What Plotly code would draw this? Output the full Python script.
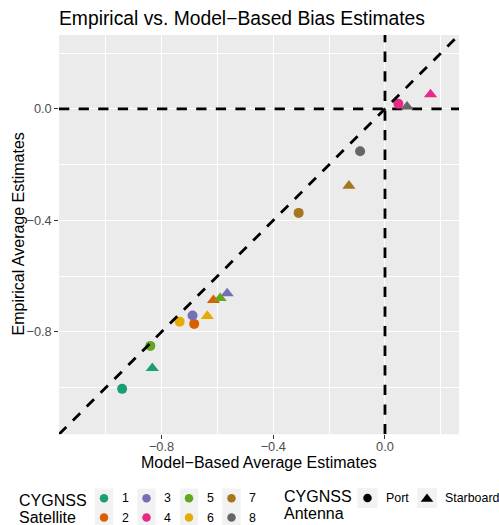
import plotly.graph_objects as go

# ---------------- data ----------------
satellites = ["1", "2", "3", "4", "5", "6", "7", "8"]
sat_colors = ["#1B9E77", "#D95F02", "#7570B3", "#E7298A",
              "#66A61E", "#E6AB02", "#A6761D", "#666666"]
port_model = [-0.941, -0.683, -0.689, 0.048, -0.840, -0.735, -0.309, -0.089]
port_empirical = [-1.004, -0.771, -0.741, 0.018, -0.850, -0.763, -0.373, -0.152]
starboard_model = [-0.833, -0.614, -0.565, 0.163, -0.590, -0.636, -0.129, 0.079]
starboard_empirical = [-0.930, -0.686, -0.662, 0.052, -0.679, -0.743, -0.276, 0.008]
antennas = ["Port", "Starboard"]
major_ticks = [-0.8, -0.4, 0.0]
minor_ticks = [-1.0, -0.6, -0.2, 0.2]
axis_range = [-1.167, 0.265]

# ---------------- styling ----------------
W, H = 499, 525
FONT = "Liberation Sans"
PANEL = dict(l=59, r=459, t=35, b=434.3)
TITLE_SIZE, AXIS_TITLE_SIZE, TICK_SIZE, LEG_LABEL_SIZE = 19.3, 16, 12.8, 12.4

def px(x):
    return x / W

def py(y):
    return 1 - y / H

fig = go.Figure()
dash = dict(color="black", width=2.8, dash="10.3px,9.3px")

# reference lines x = 0 and y = 0 (drawn under points)
fig.add_trace(go.Scatter(x=axis_range, y=[0, 0], mode="lines", line=dash,
                         showlegend=False, hoverinfo="skip", xaxis="x", yaxis="y"))
fig.add_trace(go.Scatter(x=[0, 0], y=axis_range, mode="lines", line=dash,
                         showlegend=False, hoverinfo="skip", xaxis="x", yaxis="y"))

symbols = {"Port": "circle", "Starboard": "triangle-up"}
sizes = {"Port": 10, "Starboard": 11.5}
data = {"Port": (port_model, port_empirical),
        "Starboard": (starboard_model, starboard_empirical)}

for ant in antennas:
    xs, ys = data[ant]
    fig.add_trace(go.Scatter(
        x=xs, y=ys, mode="markers", name=ant, showlegend=False,
        marker=dict(color=sat_colors, symbol=symbols[ant], size=sizes[ant],
                    line=dict(width=0)),
        xaxis="x", yaxis="y"))

# identity line y = x (drawn over points)
fig.add_trace(go.Scatter(x=axis_range, y=axis_range, mode="lines", line=dash,
                         showlegend=False, hoverinfo="skip", xaxis="x", yaxis="y"))

# ---------------- custom legend (pixel coordinate helper axes) ----------------
leg_top = 475
sat_col_x = [104, 146.5, 189, 231.5]
sat_row_y = [498.2, 517.5]
key_w, key_h = 18.3, 19.3
shapes = []
annotations = []
lx, ly, lc = [], [], []
for i, (s, c) in enumerate(zip(satellites, sat_colors)):
    col, row = i // 2, i % 2
    cx, cy = sat_col_x[col], sat_row_y[row]
    shapes.append(dict(type="rect", xref="x2", yref="y2", layer="below",
                       x0=cx - key_w / 2, x1=cx + key_w / 2,
                       y0=cy - key_h / 2, y1=cy + key_h / 2,
                       fillcolor="#F2F2F2", line=dict(width=0)))
    lx.append(cx); ly.append(cy); lc.append(c)
    annotations.append(dict(xref="x2", yref="y2", x=cx + 21, y=cy, text=s,
                            showarrow=False, xanchor="center", yanchor="middle",
                            font=dict(family=FONT, size=LEG_LABEL_SIZE, color="black")))
fig.add_trace(go.Scatter(x=lx, y=ly, mode="markers", showlegend=False,
                         marker=dict(color=lc, size=8.5, symbol="circle"),
                         xaxis="x2", yaxis="y2", hoverinfo="skip"))

annotations.append(dict(xref="x2", yref="y2", x=17, y=500, text="CYGNSS",
                        showarrow=False, xanchor="left", yanchor="middle",
                        font=dict(family=FONT, size=AXIS_TITLE_SIZE, color="black")))
annotations.append(dict(xref="x2", yref="y2", x=17, y=517, text="Satellite",
                        showarrow=False, xanchor="left", yanchor="middle",
                        font=dict(family=FONT, size=AXIS_TITLE_SIZE, color="black")))

ant_key_x = [367.5, 427]
ant_y = 498
for ant, kx in zip(antennas, ant_key_x):
    shapes.append(dict(type="rect", xref="x2", yref="y2", layer="below",
                       x0=kx - 10, x1=kx + 10, y0=ant_y - 10, y1=ant_y + 10,
                       fillcolor="#F2F2F2", line=dict(width=0)))
    fig.add_trace(go.Scatter(x=[kx], y=[ant_y + (1 if ant == "Starboard" else 0)],
                             mode="markers", showlegend=False,
                             marker=dict(color="black", symbol=symbols[ant],
                                         size=8.5 if ant == "Port" else 11),
                             xaxis="x2", yaxis="y2", hoverinfo="skip"))
    annotations.append(dict(xref="x2", yref="y2", x=kx + 16, y=ant_y, text=ant,
                            showarrow=False, xanchor="left", yanchor="middle",
                            font=dict(family=FONT, size=LEG_LABEL_SIZE, color="black")))
annotations.append(dict(xref="x2", yref="y2", x=282, y=496.5, text="CYGNSS",
                        showarrow=False, xanchor="left", yanchor="middle",
                        font=dict(family=FONT, size=AXIS_TITLE_SIZE, color="black")))
annotations.append(dict(xref="x2", yref="y2", x=282, y=513, text="Antenna",
                        showarrow=False, xanchor="left", yanchor="middle",
                        font=dict(family=FONT, size=AXIS_TITLE_SIZE, color="black")))

# axis titles
annotations.append(dict(xref="paper", yref="paper", x=px(259), y=py(462),
                        text="Model\u2212Based Average Estimates", showarrow=False,
                        xanchor="center", yanchor="middle",
                        font=dict(family=FONT, size=AXIS_TITLE_SIZE, color="black")))
annotations.append(dict(xref="paper", yref="paper", x=px(18), y=py(234.5),
                        text="Empirical Average Estimates", showarrow=False,
                        textangle=-90, xanchor="center", yanchor="middle",
                        font=dict(family=FONT, size=AXIS_TITLE_SIZE, color="black")))

# panel background
shapes.insert(0, dict(type="rect", xref="x domain", yref="y domain", layer="below",
                      x0=0, x1=1, y0=0, y1=1, fillcolor="#EBEBEB", line=dict(width=0)))

axis_common = dict(
    range=axis_range, tickvals=major_ticks, tickformat=".1f",
    showgrid=True, gridcolor="white", gridwidth=1.07, zeroline=False,
    showline=False, ticks="outside", ticklen=3.7, tickwidth=1.07, tickcolor="#333333",
    tickfont=dict(family=FONT, size=TICK_SIZE, color="#4D4D4D"),
    minor=dict(tickvals=minor_ticks, showgrid=True, gridcolor="white",
               gridwidth=0.53, ticks=""),
    automargin=False, fixedrange=True,
)

fig.update_layout(
    width=W, height=H, autosize=False,
    margin=dict(l=0, r=0, t=0, b=0, pad=0),
    paper_bgcolor="white", plot_bgcolor="rgba(0,0,0,0)",
    font=dict(family=FONT),
    title=dict(text="Empirical vs. Model\u2212Based Bias Estimates",
               x=px(59), xref="container", xanchor="left",
               y=py(18), yref="container", yanchor="middle",
               font=dict(family=FONT, size=TITLE_SIZE, color="black")),
    xaxis=dict(domain=[px(PANEL["l"]), px(PANEL["r"])], anchor="y",
               ticklabelstandoff=-3, **axis_common),
    yaxis=dict(domain=[py(PANEL["b"]), py(PANEL["t"])], anchor="x", **axis_common),
    xaxis2=dict(domain=[0, 1], range=[0, W], visible=False, anchor="y2"),
    yaxis2=dict(domain=[0, py(leg_top)], range=[H, leg_top], visible=False, anchor="x2"),
    shapes=shapes, annotations=annotations, showlegend=False,
)

fig.write_html("out.html")
